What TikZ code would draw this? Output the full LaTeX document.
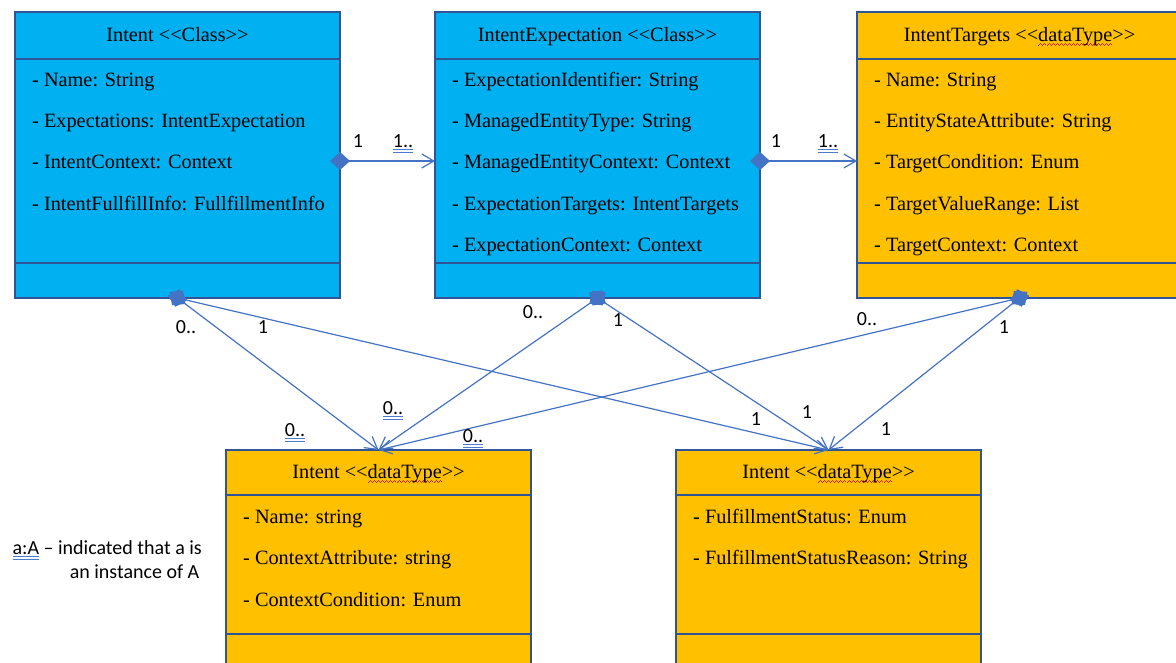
\documentclass[tikz,border=0pt]{standalone}
\usepackage{fontspec}
\setmainfont{Liberation Serif}
\newfontfamily\labelfont{Carlito}
\usetikzlibrary{arrows.meta}

\definecolor{classcyan}{HTML}{00B0F0}
\definecolor{typegold}{HTML}{FFC000}
\definecolor{frameblue}{HTML}{2F5597}
\definecolor{linkblue}{HTML}{4472C4}
\definecolor{gramblue}{HTML}{4A7BD0}
\definecolor{spellred}{HTML}{E02020}

% blue double rule under a word
\newcommand\gramline[1]{\setbox0\hbox{#1}%
  \rlap{\color{gramblue}\rule[-3pt]{\wd0}{0.9pt}}%
  \rlap{\color{gramblue}\rule[-5.5pt]{\wd0}{0.9pt}}\box0\relax}
% red squiggle under a word
\newcommand\wavepiece{\rule[-4.5pt]{1pt}{0.9pt}\rule[-3.7pt]{1pt}{0.9pt}%
  \rule[-2.9pt]{1pt}{0.9pt}\rule[-3.7pt]{1pt}{0.9pt}}
\newcommand\spellwave[1]{\setbox0\hbox{#1}%
  \rlap{\color{spellred}\hbox to\wd0{\xleaders\hbox{\wavepiece}\hfill}}\box0\relax}
% stereotype brackets without the << >> ligature
\newcommand\stereo[1]{<\kern0pt<#1>\kern0pt>}

\begin{document}
\begin{tikzpicture}[x=1pt,y=-1pt,
  umlbox/.style={draw=frameblue, line width=2pt, anchor=north west,
    inner sep=0pt, outer sep=0pt, minimum width=325pt},
  topbox/.style={umlbox, minimum height=286pt},
  lowbox/.style={umlbox, minimum width=305pt, minimum height=260pt},
  divider/.style={draw=frameblue, line width=2pt},
  headtext/.style={anchor=base, inner sep=0pt, font=\fontsize{20.3}{24}\selectfont},
  attrtext/.style={anchor=base west, inner sep=0pt, font=\fontsize{20.3}{24}\selectfont},
  mult/.style={anchor=base, inner sep=0pt, font=\labelfont\fontsize{20}{24}\selectfont},
  legendtext/.style={anchor=base east, inner sep=0pt, font=\labelfont\fontsize{20}{24}\selectfont},
  link/.style={draw=linkblue, line width=1.2pt},
  assoc/.style={link, {Diamond[length=20pt,width=18pt]}-{Straight Barb[length=12pt,width=14pt]},
    shorten <=-10pt},
]
\useasboundingbox (0,0) rectangle (1176,662);
\clip (0,0) rectangle (1176,662);

% ---- Intent <<Class>>
\node[topbox, fill=classcyan] (b1) at (15,12) {};
\draw[divider] ([yshift=-47pt]b1.north west) -- ([yshift=-47pt]b1.north east);
\draw[divider] ([yshift=35pt]b1.south west) -- ([yshift=35pt]b1.south east);
\node[headtext] (b1h) at (177.5,41) {Intent \stereo{Class}};
\node[attrtext] (b1a1) at (32,86) {- Name: String};
\node[attrtext] (b1a2) at (32,127.5) {- Expectations: IntentExpectation};
\node[attrtext] (b1a3) at (32,168.5) {- IntentContext: Context};
\node[attrtext] (b1a4) at (32,210) {- IntentFullfillInfo: FullfillmentInfo};

% ---- IntentExpectation <<Class>>
\node[topbox, fill=classcyan] (b2) at (435,12) {};
\draw[divider] ([yshift=-47pt]b2.north west) -- ([yshift=-47pt]b2.north east);
\draw[divider] ([yshift=35pt]b2.south west) -- ([yshift=35pt]b2.south east);
\node[headtext] (b2h) at (597.5,41) {IntentExpectation \stereo{Class}};
\node[attrtext] (b2a1) at (452,86) {- ExpectationIdentifier: String};
\node[attrtext] (b2a2) at (452,127.5) {- ManagedEntityType: String};
\node[attrtext] (b2a3) at (452,168.5) {- ManagedEntityContext: Context};
\node[attrtext] (b2a4) at (452,210) {- ExpectationTargets: IntentTargets};
\node[attrtext] (b2a5) at (452,251) {- ExpectationContext: Context};

% ---- IntentTargets <<dataType>>
\node[topbox, fill=typegold] (b3) at (857,12) {};
\draw[divider] ([yshift=-47pt]b3.north west) -- ([yshift=-47pt]b3.north east);
\draw[divider] ([yshift=35pt]b3.south west) -- ([yshift=35pt]b3.south east);
\node[headtext] (b3h) at (1019.5,41) {IntentTargets \stereo{\spellwave{dataType}}};
\node[attrtext] (b3a1) at (874,86) {- Name: String};
\node[attrtext] (b3a2) at (874,127.5) {- EntityStateAttribute: String};
\node[attrtext] (b3a3) at (874,168.5) {- TargetCondition: Enum};
\node[attrtext] (b3a4) at (874,210) {- TargetValueRange: List};
\node[attrtext] (b3a5) at (874,251) {- TargetContext: Context};

% ---- Intent <<dataType>> (context)
\node[lowbox, fill=typegold] (c1) at (226,450) {};
\draw[divider] ([yshift=-45pt]c1.north west) -- ([yshift=-45pt]c1.north east);
\draw[divider] ([yshift=-184pt]c1.north west) -- ([yshift=-184pt]c1.north east);
\node[headtext] (c1h) at (378.5,478) {Intent \stereo{\spellwave{dataType}}};
\node[attrtext] (c1a1) at (243,523) {- Name: string};
\node[attrtext] (c1a2) at (243,564.5) {- ContextAttribute: string};
\node[attrtext] (c1a3) at (243,606) {- ContextCondition: Enum};

% ---- Intent <<dataType>> (fulfillment)
\node[lowbox, fill=typegold] (c2) at (676,450) {};
\draw[divider] ([yshift=-45pt]c2.north west) -- ([yshift=-45pt]c2.north east);
\draw[divider] ([yshift=-184pt]c2.north west) -- ([yshift=-184pt]c2.north east);
\node[headtext] (c2h) at (828.5,478) {Intent \stereo{\spellwave{dataType}}};
\node[attrtext] (c2a1) at (693,523) {- FulfillmentStatus: Enum};
\node[attrtext] (c2a2) at (693,564.5) {- FulfillmentStatusReason: String};

% ---- associations
\draw[assoc] ([yshift=-149pt]b1.north east) -- ([yshift=-149pt]b2.north west);
\draw[assoc] ([yshift=-149pt]b2.north east) -- ([yshift=-149pt]b3.north west);
\draw[assoc] (b1.south) -- (c1.north);
\draw[assoc] (b1.south) -- (c2.north);
\draw[assoc] (b2.south) -- (c1.north);
\draw[assoc] (b2.south) -- (c2.north);
\draw[assoc] (b3.south) -- (c1.north);
\draw[assoc] (b3.south) -- (c2.north);

% ---- multiplicities
\node[mult] (m1) at (358,147) {1};
\node[mult] (m2) at (403,147) {\gramline{1..}};
\node[mult] (m3) at (776,147) {1};
\node[mult] (m4) at (828,147) {\gramline{1..}};
\node[mult] (m5) at (186,333) {0..};
\node[mult] (m6) at (263,333) {1};
\node[mult] (m7) at (533,318) {0..};
\node[mult] (m8) at (618,326) {1};
\node[mult] (m9) at (867,325) {0..};
\node[mult] (m10) at (1004,333) {1};
\node[mult] (m11) at (295,436) {\gramline{0..}};
\node[mult] (m12) at (393,414) {\gramline{0..}};
\node[mult] (m13) at (473,442) {\gramline{0..}};
\node[mult] (m14) at (756,425) {1};
\node[mult] (m15) at (807,418) {1};
\node[mult] (m16) at (886,435) {1};

% ---- legend
\node[legendtext] (lg1) at (202,554) {\gramline{a:A} – indicated that a is};
\node[legendtext] (lg2) at (199.5,578) {an instance of A};
\end{tikzpicture}
\end{document}
